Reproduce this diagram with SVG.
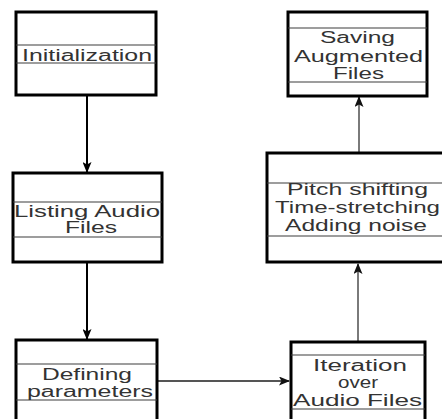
<svg xmlns="http://www.w3.org/2000/svg" width="442" height="419" viewBox="0 0 442 419">
<style>
.box{fill:#fff;stroke:#000;stroke-width:3}
.sep{stroke:#3c3c3c;stroke-width:1.2}
.t{font-family:"Liberation Sans",Arial,sans-serif;font-size:16px;fill:#333}
.c{fill:none;stroke-width:2}
</style>
<defs>
<marker id="ahB" markerWidth="11" markerHeight="9" refX="10" refY="4.5" orient="auto" markerUnits="userSpaceOnUse"><path d="M0,0 L11,4.5 L0,9 L2.5,4.5 Z" fill="#000"/></marker>
<marker id="ahG" markerWidth="11" markerHeight="9" refX="10" refY="4.5" orient="auto" markerUnits="userSpaceOnUse"><path d="M0,0 L11,4.5 L0,9 L2.5,4.5 Z" fill="#111"/></marker>
</defs>
<rect width="442" height="419" fill="#fff"/>
<g id="connectors">
<line class="c" x1="87" y1="96" x2="87" y2="172" stroke="#000" marker-end="url(#ahB)"/>
<line class="c" x1="87" y1="263" x2="87" y2="339" stroke="#000" marker-end="url(#ahB)"/>
<line class="c" x1="157" y1="381" x2="289" y2="381" stroke="#555" stroke-width="1.5" marker-end="url(#ahG)"/>
<line class="c" x1="358" y1="341" x2="358" y2="264" stroke="#7a7a7a" stroke-width="2.5" marker-end="url(#ahG)"/>
<line class="c" x1="359" y1="152" x2="359" y2="97" stroke="#7a7a7a" stroke-width="2.5" marker-end="url(#ahG)"/>
</g>
<g id="init">
<rect class="box" x="16" y="12" width="140" height="83"/>
<line class="sep" x1="16" y1="45" x2="156" y2="45"/>
<line class="sep" x1="16" y1="63" x2="156" y2="63"/>
<text class="t" x="22" y="61" textLength="130" lengthAdjust="spacingAndGlyphs">Initialization</text>
</g>
<g id="listing">
<rect class="box" x="13" y="173" width="149" height="89"/>
<line class="sep" x1="13" y1="202" x2="162" y2="202"/>
<line class="sep" x1="13" y1="237" x2="162" y2="237"/>
<text class="t" x="14" y="217" textLength="146" lengthAdjust="spacingAndGlyphs">Listing Audio</text>
<text class="t" x="65" y="233" textLength="52" lengthAdjust="spacingAndGlyphs">Files</text>
</g>
<g id="defining">
<rect class="box" x="16" y="340" width="141" height="90"/>
<line class="sep" x1="16" y1="364" x2="157" y2="364"/>
<line class="sep" x1="16" y1="400" x2="157" y2="400"/>
<text class="t" x="42" y="380" textLength="90" lengthAdjust="spacingAndGlyphs">Defining</text>
<text class="t" x="27" y="397" textLength="126" lengthAdjust="spacingAndGlyphs">parameters</text>
</g>
<g id="iteration">
<rect class="box" x="291" y="342" width="134" height="90"/>
<line class="sep" x1="291" y1="355" x2="425" y2="355"/>
<line class="sep" x1="291" y1="409" x2="425" y2="409"/>
<text class="t" x="313" y="371" textLength="94" lengthAdjust="spacingAndGlyphs">Iteration</text>
<text class="t" x="338" y="388" textLength="40" lengthAdjust="spacingAndGlyphs">over</text>
<text class="t" x="293" y="406" textLength="129" lengthAdjust="spacingAndGlyphs">Audio Files</text>
</g>
<g id="pitch">
<rect class="box" x="267" y="153" width="182" height="109"/>
<line class="sep" x1="267" y1="183" x2="449" y2="183"/>
<line class="sep" x1="267" y1="236" x2="449" y2="236"/>
<text class="t" x="287" y="195" textLength="141" lengthAdjust="spacingAndGlyphs">Pitch shifting</text>
<text class="t" x="275" y="213" textLength="165" lengthAdjust="spacingAndGlyphs">Time-stretching</text>
<text class="t" x="285" y="231" textLength="142" lengthAdjust="spacingAndGlyphs">Adding noise</text>
</g>
<g id="saving">
<rect class="box" x="288" y="12" width="139" height="84"/>
<line class="sep" x1="288" y1="28" x2="427" y2="28"/>
<line class="sep" x1="288" y1="82" x2="427" y2="82"/>
<text class="t" x="320" y="43" textLength="75" lengthAdjust="spacingAndGlyphs">Saving</text>
<text class="t" x="294" y="62" textLength="129" lengthAdjust="spacingAndGlyphs">Augmented</text>
<text class="t" x="333" y="79" textLength="51" lengthAdjust="spacingAndGlyphs">Files</text>
</g>
</svg>
